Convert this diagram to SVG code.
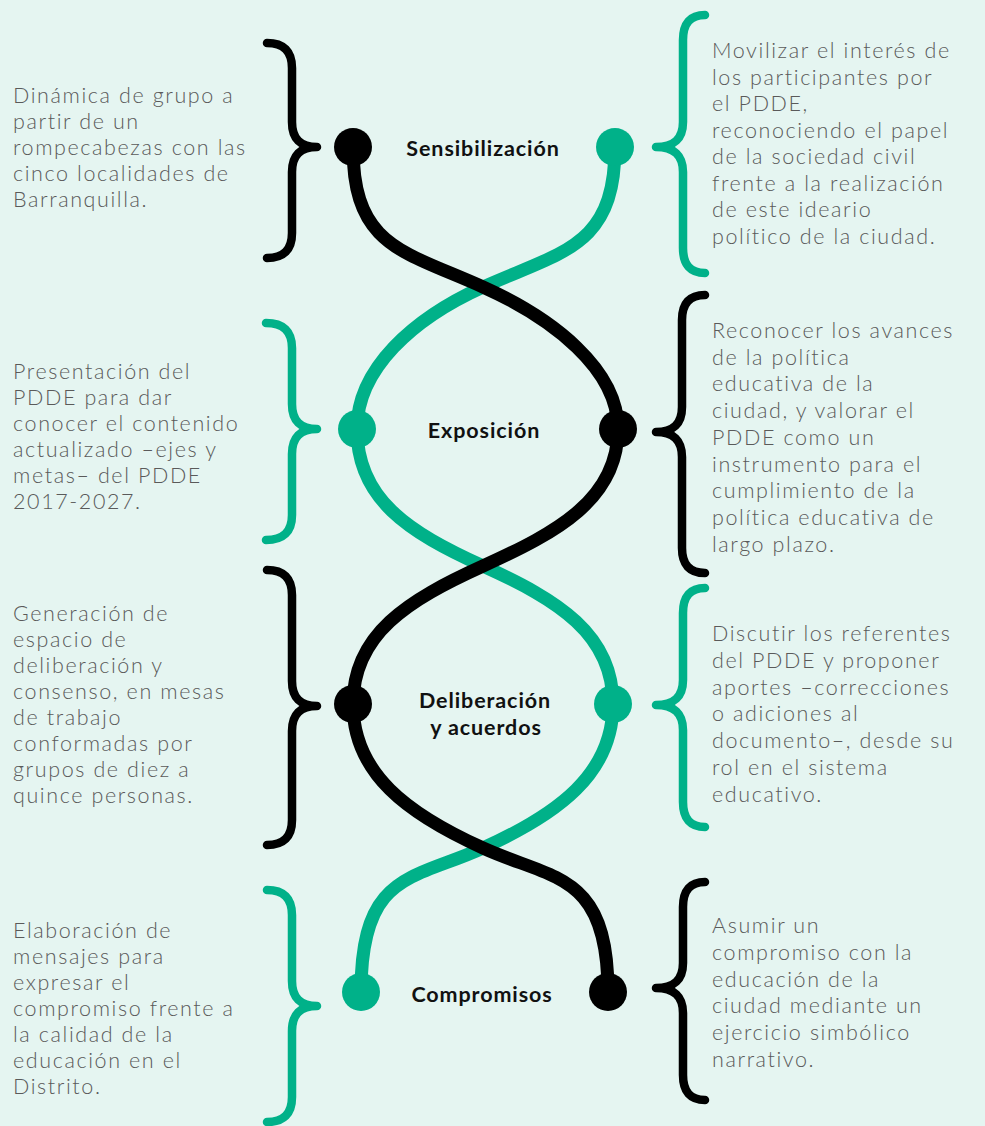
<svg xmlns="http://www.w3.org/2000/svg" width="985" height="1126" viewBox="0 0 985 1126">
<style>
.bg{fill:#e5f5f1}
.strand{fill:none;stroke-width:13;stroke-linecap:round}
.k{stroke:#000}
.g{stroke:#00b189}
.dk{fill:#000}
.dg{fill:#00b189}
.brace{fill:none;stroke-width:8.5;stroke-linecap:round;stroke-linejoin:round}
.desc{font-family:Lato,"Open Sans",sans-serif;font-size:21.5px;font-weight:300;fill:#5a5a5a;letter-spacing:1.6px}
.lbl{font-family:Lato,"Open Sans",sans-serif;font-size:21.5px;font-weight:700;fill:#111;text-anchor:middle;letter-spacing:0.9px}
</style>
<rect class="bg" x="0" y="0" width="985" height="1126"/>

<g id="connectors">
<path class="strand g" d="M615,147 C615,247 563,251 483,287 C413,318.5 357,369 357,429 C357,499 408,532 483,566 C558,600 613,634 613,704 C613,774 558,814 483,848 C413,880 361,872 361,992"/>
<path class="strand k" d="M353,147 C353,247 403,251 483,287 C553,318.5 618,369 618,429 C618,499 558,532 483,566 C408,600 353,634 353,704 C353,774 408,814 483,848 C553,880 608,872 608,992"/>
</g>

<g id="sensibilizacion">
<circle class="dk" cx="353" cy="147" r="19"/>
<circle class="dg" cx="615" cy="147" r="19"/>
<text class="lbl" x="483" y="156">Sensibilización</text>
</g>
<g id="exposicion">
<circle class="dg" cx="357" cy="429" r="19"/>
<circle class="dk" cx="618" cy="429" r="19"/>
<text class="lbl" x="484" y="438">Exposición</text>
</g>
<g id="deliberacion">
<circle class="dk" cx="353" cy="704" r="19"/>
<circle class="dg" cx="613" cy="704" r="19"/>
<text class="lbl" x="485" y="708">Deliberación<tspan x="486" y="735">y acuerdos</tspan></text>
</g>
<g id="compromisos">
<circle class="dg" cx="361" cy="992" r="19"/>
<circle class="dk" cx="608" cy="992" r="19"/>
<text class="lbl" x="482" y="1002">Compromisos</text>
</g>

<g id="left-1">
<path class="brace k" d="M267,43 Q292,43 292,68 L292,122 Q292,147 317,147 Q292,147 292,172 L292,233 Q292,258 267,258"/>
<text class="desc" x="13" y="103">Dinámica de grupo a<tspan x="13" y="129">partir de un</tspan><tspan x="13" y="155">rompecabezas con las</tspan><tspan x="13" y="181">cinco localidades de</tspan><tspan x="13" y="207">Barranquilla.</tspan></text>
</g>
<g id="left-2">
<path class="brace g" d="M266,323 Q292,323 292,348 L292,404 Q292,429 317,429 Q292,429 292,454 L292,515 Q292,540 266,540"/>
<text class="desc" x="13" y="379">Presentación del<tspan x="13" y="405">PDDE para dar</tspan><tspan x="13" y="431">conocer el contenido</tspan><tspan x="13" y="457">actualizado –ejes y</tspan><tspan x="13" y="483">metas– del PDDE</tspan><tspan x="13" y="509">2017-2027.</tspan></text>
</g>
<g id="left-3">
<path class="brace k" d="M267,570 Q292,570 292,595 L292,681 Q292,706 317,706 Q292,706 292,731 L292,820 Q292,845 267,845"/>
<text class="desc" x="13" y="621">Generación de<tspan x="13" y="647">espacio de</tspan><tspan x="13" y="673">deliberación y</tspan><tspan x="13" y="699">consenso, en mesas</tspan><tspan x="13" y="725">de trabajo</tspan><tspan x="13" y="751">conformadas por</tspan><tspan x="13" y="777">grupos de diez a</tspan><tspan x="13" y="803">quince personas.</tspan></text>
</g>
<g id="left-4">
<path class="brace g" d="M267,890 Q292,890 292,915 L292,981 Q292,1006 317,1006 Q292,1006 292,1031 L292,1097 Q292,1122 267,1122"/>
<text class="desc" x="13" y="938">Elaboración de<tspan x="13" y="964">mensajes para</tspan><tspan x="13" y="990">expresar el</tspan><tspan x="13" y="1016">compromiso frente a</tspan><tspan x="13" y="1042">la calidad de la</tspan><tspan x="13" y="1068">educación en el</tspan><tspan x="13" y="1094">Distrito.</tspan></text>
</g>

<g id="right-1">
<path class="brace g" d="M705,15 Q683,15 683,40 L683,122 Q683,147 656,147 Q683,147 683,172 L683,248 Q683,273 705,273"/>
<text class="desc" x="712" y="58">Movilizar el interés de<tspan x="712" y="84.5">los participantes por</tspan><tspan x="712" y="111">el PDDE,</tspan><tspan x="712" y="137.5">reconociendo el papel</tspan><tspan x="712" y="164">de la sociedad civil</tspan><tspan x="712" y="190.5">frente a la realización</tspan><tspan x="712" y="217">de este ideario</tspan><tspan x="712" y="243.5">político de la ciudad.</tspan></text>
</g>
<g id="right-2">
<path class="brace k" d="M705,295 Q682,295 682,320 L682,407 Q682,432 656,432 Q682,432 682,457 L682,548 Q682,573 705,573"/>
<text class="desc" x="712" y="338">Reconocer los avances<tspan x="712" y="364.7">de la política</tspan><tspan x="712" y="391.4">educativa de la</tspan><tspan x="712" y="418.1">ciudad, y valorar el</tspan><tspan x="712" y="444.8">PDDE como un</tspan><tspan x="712" y="471.5">instrumento para el</tspan><tspan x="712" y="498.2">cumplimiento de la</tspan><tspan x="712" y="524.9">política educativa de</tspan><tspan x="712" y="551.6">largo plazo.</tspan></text>
</g>
<g id="right-3">
<path class="brace g" d="M705,588 Q683,588 683,613 L683,680 Q683,705 656,705 Q683,705 683,730 L683,802 Q683,827 705,827"/>
<text class="desc" x="712" y="641">Discutir los referentes<tspan x="712" y="667.8">del PDDE y proponer</tspan><tspan x="712" y="694.6">aportes –correcciones</tspan><tspan x="712" y="721.4">o adiciones al</tspan><tspan x="712" y="748.2">documento–, desde su</tspan><tspan x="712" y="775">rol en el sistema</tspan><tspan x="712" y="801.8">educativo.</tspan></text>
</g>
<g id="right-4">
<path class="brace k" d="M705,882 Q683,882 683,907 L683,963 Q683,988 656,988 Q683,988 683,1013 L683,1075 Q683,1100 705,1100"/>
<text class="desc" x="712" y="933">Asumir un<tspan x="712" y="959.8">compromiso con la</tspan><tspan x="712" y="986.6">educación de la</tspan><tspan x="712" y="1013.4">ciudad mediante un</tspan><tspan x="712" y="1040.2">ejercicio simbólico</tspan><tspan x="712" y="1067">narrativo.</tspan></text>
</g>
</svg>
